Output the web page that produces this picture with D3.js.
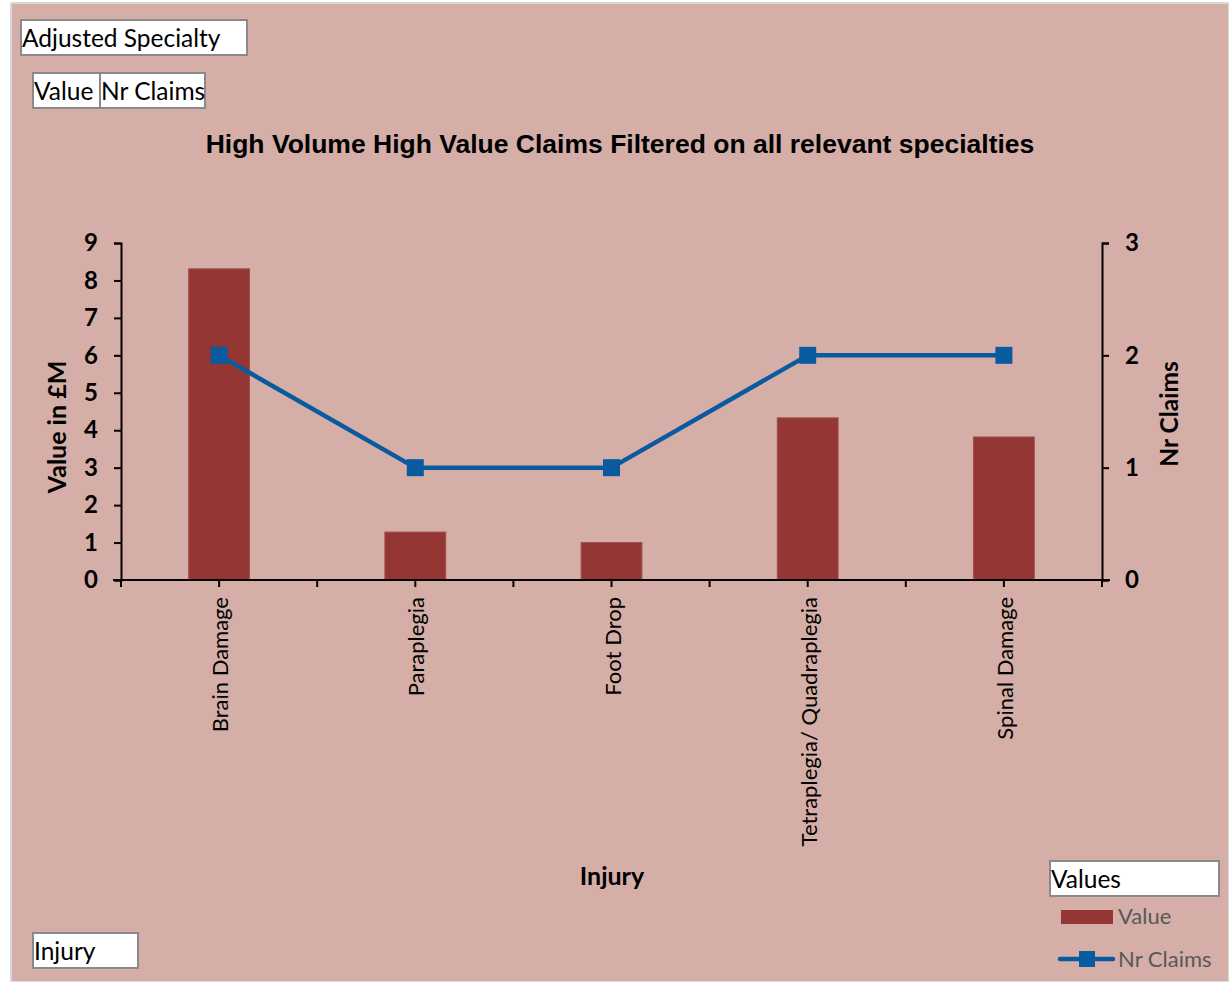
<!DOCTYPE html>
<html>
<head>
<meta charset="utf-8">
<script src="https://cdn.jsdelivr.net/npm/d3@7"></script>
<style>
  body { margin: 0; background: #fff; }
</style>
</head>
<body>
<div id="chart-container"></div>
<script>
// Data
const injuries = ["Brain Damage", "Paraplegia", "Foot Drop", "Tetraplegia/ Quadraplegia", "Spinal Damage"];
const valueM = [8.31, 1.28, 1.0, 4.33, 3.82];
const nrClaims = [2, 1, 1, 2, 2];
const leftTicks = [0, 1, 2, 3, 4, 5, 6, 7, 8, 9];
const rightTicks = [0, 1, 2, 3];

const W = 1229, H = 982;
const plot = { left: 121, right: 1102, top: 243, bottom: 580 };
const barColor = "#943634";
const lineColor = "#0a5aa0";
const font = "Lato, 'Open Sans', sans-serif";

const svg = d3.select("#chart-container")
  .append("svg")
  .attr("width", W)
  .attr("height", H);

// chart area background
svg.append("rect")
  .attr("x", 11).attr("y", 3)
  .attr("width", W - 11).attr("height", H - 3)
  .attr("fill", "#d4aea7")
  .attr("stroke", "#d9d9d9")
  .attr("stroke-width", 2);

// scales
const xScale = d3.scaleBand()
  .domain(injuries)
  .range([plot.left, plot.right]);

const yLeft = d3.scaleLinear()
  .domain([0, 9])
  .range([plot.bottom, plot.top]);

const yRight = d3.scaleLinear()
  .domain([0, 3])
  .range([plot.bottom, plot.top]);

// bars
const barW = xScale.bandwidth() * 0.31;
svg.selectAll(".bar")
  .data(injuries)
  .join("rect")
  .attr("class", "bar")
  .attr("x", d => xScale(d) + xScale.bandwidth() / 2 - barW / 2)
  .attr("y", (d, i) => yLeft(valueM[i]))
  .attr("width", barW)
  .attr("height", (d, i) => yLeft(0) - yLeft(valueM[i]))
  .attr("fill", barColor)
  .attr("stroke", "#a34f4c")
  .attr("stroke-width", 1);

// left axis
svg.append("g")
  .attr("transform", `translate(${plot.left},0)`)
  .call(d3.axisLeft(yLeft).tickValues(leftTicks).tickSize(7).tickPadding(16).tickFormat(d3.format("d")))
  .call(g => g.select(".domain").attr("stroke", "#000").attr("stroke-width", 2))
  .call(g => g.selectAll(".tick line").attr("stroke", "#000").attr("stroke-width", 2))
  .selectAll(".tick text")
  .style("font-family", font)
  .style("font-size", "24px")
  .style("font-weight", "bold")
  .attr("fill", "#000");

// right axis
svg.append("g")
  .attr("transform", `translate(${plot.right},0)`)
  .call(d3.axisRight(yRight).tickValues(rightTicks).tickSize(7).tickPadding(16).tickFormat(d3.format("d")))
  .call(g => g.select(".domain").attr("stroke", "#000").attr("stroke-width", 2))
  .call(g => g.selectAll(".tick line").attr("stroke", "#000").attr("stroke-width", 2))
  .selectAll(".tick text")
  .style("font-family", font)
  .style("font-size", "24px")
  .style("font-weight", "bold")
  .attr("fill", "#000");

// bottom axis line and ticks (centres and boundaries)
const xTickPos = [];
injuries.forEach(d => {
  xTickPos.push(xScale(d));
  xTickPos.push(xScale(d) + xScale.bandwidth() / 2);
});
xTickPos.push(plot.right);

svg.append("line")
  .attr("x1", plot.left - 8).attr("x2", plot.right + 8)
  .attr("y1", plot.bottom).attr("y2", plot.bottom)
  .attr("stroke", "#000").attr("stroke-width", 2);

svg.selectAll(".xtick")
  .data(xTickPos)
  .join("line")
  .attr("class", "xtick")
  .attr("x1", d => d).attr("x2", d => d)
  .attr("y1", plot.bottom).attr("y2", plot.bottom + 7)
  .attr("stroke", "#000").attr("stroke-width", 2);

// category labels
svg.selectAll(".xlabel")
  .data(injuries)
  .join("text")
  .attr("class", "xlabel")
  .attr("transform", d => `translate(${xScale(d) + xScale.bandwidth() / 2 + 9},${plot.bottom + 17}) rotate(-90)`)
  .attr("text-anchor", "end")
  .style("font-family", font)
  .style("font-size", "22px")
  .attr("fill", "#000")
  .text(d => d);

// line series
const line = d3.line()
  .x((d, i) => xScale(injuries[i]) + xScale.bandwidth() / 2)
  .y(d => yRight(d));

svg.append("path")
  .datum(nrClaims)
  .attr("fill", "none")
  .attr("stroke", lineColor)
  .attr("stroke-width", 4.5)
  .attr("stroke-linejoin", "round")
  .attr("d", line);

svg.selectAll(".marker")
  .data(nrClaims)
  .join("rect")
  .attr("class", "marker")
  .attr("x", (d, i) => xScale(injuries[i]) + xScale.bandwidth() / 2 - 8.5)
  .attr("y", d => yRight(d) - 8.5)
  .attr("width", 17).attr("height", 17)
  .attr("fill", lineColor);

// title
svg.append("text")
  .attr("x", 620).attr("y", 153)
  .attr("text-anchor", "middle")
  .style("font-family", "'Liberation Sans', Arial, sans-serif")
  .style("font-size", "26.5px")
  .style("font-weight", "bold")
  .text("High Volume High Value Claims Filtered on all relevant specialties");

// axis titles
svg.append("text")
  .attr("transform", `translate(66,427) rotate(-90)`)
  .attr("text-anchor", "middle")
  .style("font-family", font)
  .style("font-size", "25px")
  .style("font-weight", "bold")
  .text("Value in £M");

svg.append("text")
  .attr("transform", `translate(1178,414) rotate(-90)`)
  .attr("text-anchor", "middle")
  .style("font-family", font)
  .style("font-size", "24.5px")
  .style("font-weight", "bold")
  .text("Nr Claims");

svg.append("text")
  .attr("x", 612).attr("y", 885)
  .attr("text-anchor", "middle")
  .style("font-family", font)
  .style("font-size", "25px")
  .style("font-weight", "bold")
  .text("Injury");

// pivot field buttons
const buttons = [
  { label: "Adjusted Specialty", x: 21, y: 20, w: 226, h: 35 },
  { label: "Value", x: 33, y: 73, w: 67, h: 35 },
  { label: "Nr Claims", x: 100, y: 73, w: 105, h: 35 },
  { label: "Injury", x: 33, y: 933, w: 105, h: 35 },
  { label: "Values", x: 1050, y: 861, w: 169, h: 35 }
];
const btn = svg.selectAll(".btn")
  .data(buttons)
  .join("g")
  .attr("class", "btn");
btn.append("rect")
  .attr("x", d => d.x).attr("y", d => d.y)
  .attr("width", d => d.w).attr("height", d => d.h)
  .attr("fill", "#fff")
  .attr("stroke", "#8a8a8a")
  .attr("stroke-width", 2);
btn.append("text")
  .attr("x", d => d.x + 1).attr("y", d => d.y + 27)
  .style("font-family", font)
  .style("font-size", "24.5px")
  .attr("fill", "#000")
  .text(d => d.label);

// legend
svg.append("rect")
  .attr("x", 1061).attr("y", 910)
  .attr("width", 52).attr("height", 14)
  .attr("fill", barColor);
svg.append("text")
  .attr("x", 1118).attr("y", 924)
  .style("font-family", font)
  .style("font-size", "22px")
  .attr("fill", "#595959")
  .text("Value");

svg.append("line")
  .attr("x1", 1060).attr("x2", 1113)
  .attr("y1", 959).attr("y2", 959)
  .attr("stroke", lineColor)
  .attr("stroke-width", 4.5)
  .attr("stroke-linecap", "round");
svg.append("rect")
  .attr("x", 1079).attr("y", 951)
  .attr("width", 16).attr("height", 16)
  .attr("fill", lineColor);
svg.append("text")
  .attr("x", 1118).attr("y", 967)
  .style("font-family", font)
  .style("font-size", "22px")
  .attr("fill", "#595959")
  .text("Nr Claims");
</script>
</body>
</html>
